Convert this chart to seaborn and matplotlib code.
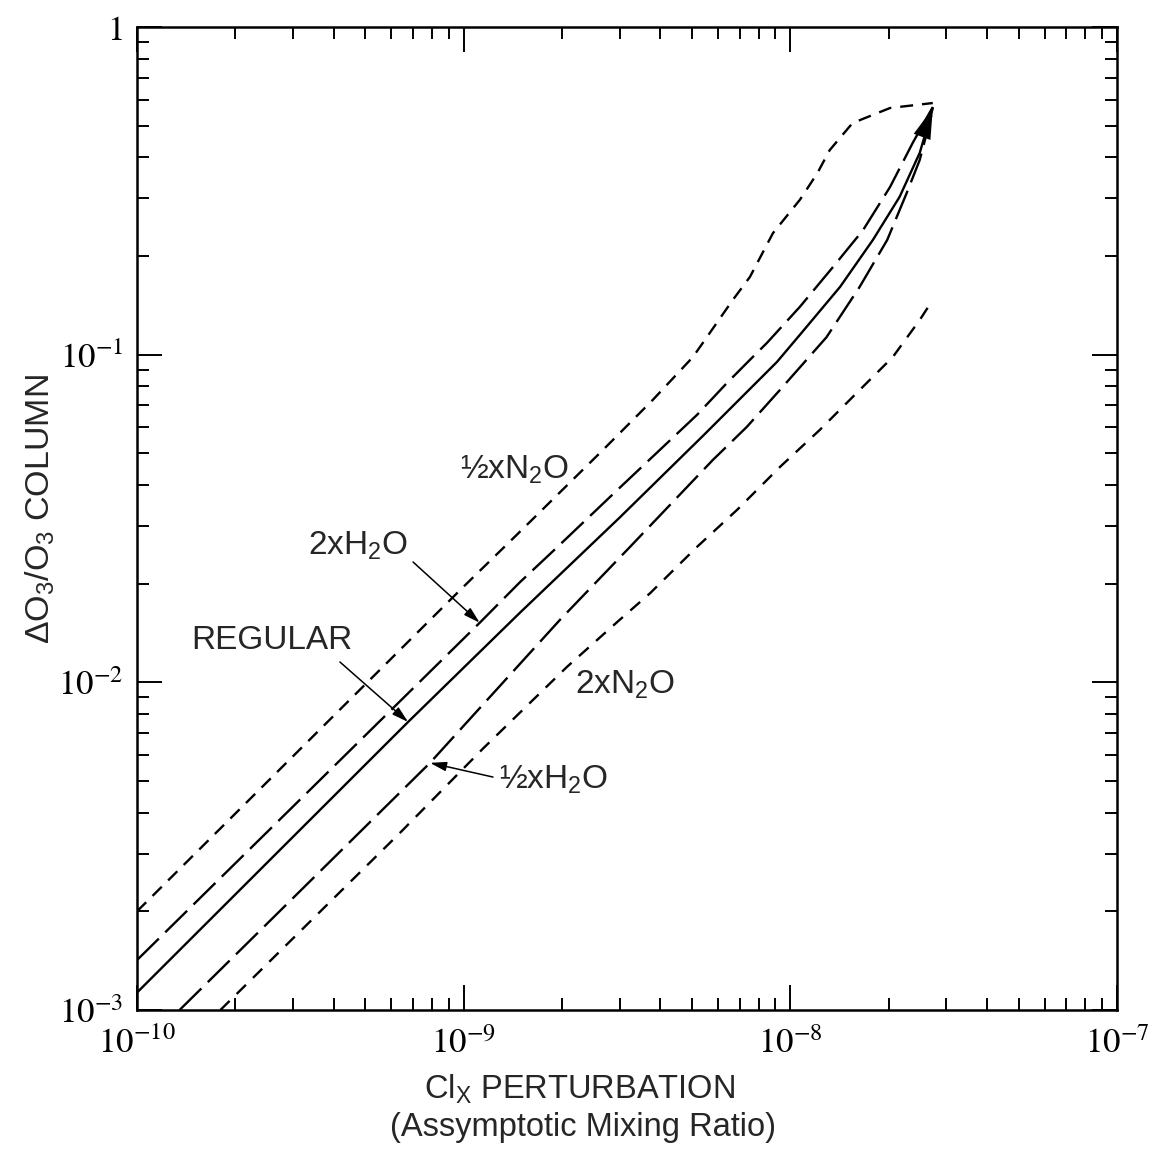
import numpy as np
import pandas as pd
import matplotlib
matplotlib.use("Agg")
import matplotlib.pyplot as plt
import seaborn as sns
from matplotlib.ticker import LogLocator, NullFormatter, FuncFormatter, FixedLocator

# ---------------- data ----------------
half_n2o_x = [1.0e-10, 1.0e-9, 1.486e-9, 2.67e-9, 3.79e-9, 5.04e-9, 6.67e-9, 7.52e-9,
              8.85e-9, 1.07e-8, 1.21e-8, 1.32e-8, 1.55e-8, 2.02e-8, 2.73e-8]
half_n2o_y = [2.0e-3, 0.0196, 0.0288, 0.0512, 0.0727, 0.0985, 0.147, 0.1726,
              0.235, 0.297, 0.358, 0.421, 0.509, 0.566, 0.586]

two_h2o_x = [1.0e-10, 1.12e-9, 1.486e-9, 1.93e-9, 3.0e-9, 5.18e-9, 6.40e-9, 7.52e-9,
             8.48e-9, 1.07e-8, 1.35e-8, 1.67e-8, 2.02e-8, 2.37e-8, 2.73e-8]
two_h2o_y = [1.42e-3, 0.0152, 0.0202, 0.0258, 0.0392, 0.0655, 0.082, 0.0964,
             0.1086, 0.140, 0.185, 0.240, 0.325, 0.443, 0.570]

regular_x = [1.0e-10, 6.76e-10, 1.486e-9, 3.0e-9, 5.4e-9, 9.1e-9, 1.07e-8,
             1.42e-8, 1.79e-8, 2.16e-8, 2.49e-8, 2.73e-8]
regular_y = [1.13e-3, 7.57e-3, 0.0163, 0.0318, 0.0565, 0.0950, 0.1150,
             0.161, 0.224, 0.303, 0.413, 0.565]

half_h2o_x = [1.35e-10, 7.89e-10, 1.97e-9, 3.23e-9, 5.79e-9, 7.36e-9, 9.29e-9,
              1.29e-8, 1.63e-8, 1.98e-8, 2.27e-8, 2.49e-8, 2.73e-8]
half_h2o_y = [1.0e-3, 5.68e-3, 0.0155, 0.0259, 0.0477, 0.0602, 0.078,
              0.113, 0.161, 0.224, 0.311, 0.393, 0.558]

two_n2o_x = [1.8e-10, 6.38e-10, 1.15e-9, 2.07e-9, 3.0e-9, 3.72e-9, 5.18e-9, 6.87e-9,
             9.29e-9, 1.23e-8, 1.63e-8, 2.06e-8, 2.49e-8, 2.73e-8]
two_n2o_y = [1.0e-3, 3.47e-3, 6.3e-3, 0.01114, 0.0155, 0.0187, 0.0259, 0.0336,
             0.0454, 0.0589, 0.078, 0.0984, 0.1276, 0.147]

x_ticks = [1e-10, 1e-9, 1e-8, 1e-7]
y_ticks = [1e-3, 1e-2, 1e-1, 1]

# ---------------- style ----------------
sns.set_style("ticks")
plt.rcParams["font.family"] = ["Liberation Sans", "DejaVu Sans"]
plt.rcParams["mathtext.fontset"] = "stix"
plt.rcParams["mathtext.rm"] = "Liberation Sans"
plt.rcParams["mathtext.it"] = "Liberation Sans:italic"
plt.rcParams["mathtext.bf"] = "Liberation Sans:bold"

fig = plt.figure(figsize=(11.5, 11.53), dpi=100)
ax = fig.add_axes([0.1191, 0.1240, 0.8522, 0.8526])

series = [
    (half_n2o_x, half_n2o_y, (0, (5.5, 3.8))),
    (two_h2o_x, two_h2o_y, (0, (13.0, 3.8))),
    (regular_x, regular_y, "-"),
    (half_h2o_x, half_h2o_y, (0, (13.0, 3.8))),
    (two_n2o_x, two_n2o_y, (0, (5.5, 4.2))),
]
for xs, ys, ls in series:
    df = pd.DataFrame({"x": xs, "y": ys})
    sns.lineplot(data=df, x="x", y="y", ax=ax, color="black", lw=1.7,
                 sort=False, estimator=None, linestyle=ls)

ax.set_xscale("log")
ax.set_yscale("log")
ax.set_xlim(x_ticks[0], x_ticks[-1])
ax.set_ylim(y_ticks[0], y_ticks[-1])

# arrowhead where the curves converge
ax.annotate("", xy=(regular_x[-1], regular_y[-1]), xytext=(regular_x[-3], regular_y[-3]),
            arrowprops=dict(arrowstyle="-|>,head_length=1.1,head_width=0.32",
                            color="black", lw=0, mutation_scale=20,
                            shrinkA=0, shrinkB=0))


def fmt(v, pos):
    e = int(round(np.log10(v)))
    return "$1$" if e == 0 else "$10^{%d}$" % e


for axis, ticks in ((ax.xaxis, x_ticks), (ax.yaxis, y_ticks)):
    axis.set_major_locator(FixedLocator(ticks))
    axis.set_minor_locator(LogLocator(base=10, subs=np.arange(2, 10), numticks=20))
    axis.set_minor_formatter(NullFormatter())
    axis.set_major_formatter(FuncFormatter(fmt))

ax.tick_params(which="both", direction="in", top=True, right=True, width=1.4,
               colors="black", labelsize=25)
ax.tick_params(which="major", length=18)
ax.tick_params(which="minor", length=8.5)
ax.tick_params(axis="x", which="major", pad=12)
ax.tick_params(axis="y", which="major", pad=10)
for s in ax.spines.values():
    s.set_linewidth(1.8)
    s.set_color("black")

ax.set_xlabel("")
ax.set_ylabel("")

# axis titles
ax.text(0.452, -0.081, r"Cl$_\mathrm{X}$ PERTURBATION", transform=ax.transAxes,
        ha="center", va="center", fontsize=23.5, math_fontfamily="custom")
ax.text(0.455, -0.119, "(Assymptotic Mixing Ratio)", transform=ax.transAxes,
        ha="center", va="center", fontsize=23.5)
ax.text(-0.099, 0.51, r"$\Delta$O$_3$/O$_3$ COLUMN", transform=ax.transAxes,
        ha="center", va="center", rotation=90, fontsize=24.5, math_fontfamily="custom")

# curve labels
lab_kw = dict(ha="center", va="center", fontsize=24, math_fontfamily="custom")
ax.text(1.43e-9, 0.0445, r"½xN$_2$O", **lab_kw)
ax.text(4.75e-10, 0.0261, r"2xH$_2$O", **lab_kw)
ax.text(2.59e-10, 0.01346, "REGULAR", **lab_kw)
ax.text(3.12e-9, 9.82e-3, r"2xN$_2$O", **lab_kw)
ax.text(1.88e-9, 5.04e-3, r"½xH$_2$O", **lab_kw)

arr = dict(arrowstyle="-|>,head_length=0.7,head_width=0.2", color="black",
           lw=1.1, mutation_scale=14, shrinkA=0, shrinkB=0)
ax.annotate("", xy=(two_h2o_x[1], two_h2o_y[1]), xytext=(7.0e-10, 0.0233), arrowprops=arr)
ax.annotate("", xy=(regular_x[1], regular_y[1]), xytext=(4.18e-10, 0.01154), arrowprops=arr)
ax.annotate("", xy=(half_h2o_x[1], half_h2o_y[1]), xytext=(1.23e-9, 5.14e-3), arrowprops=arr)

fig.savefig("out.png", dpi=100, facecolor="white")
